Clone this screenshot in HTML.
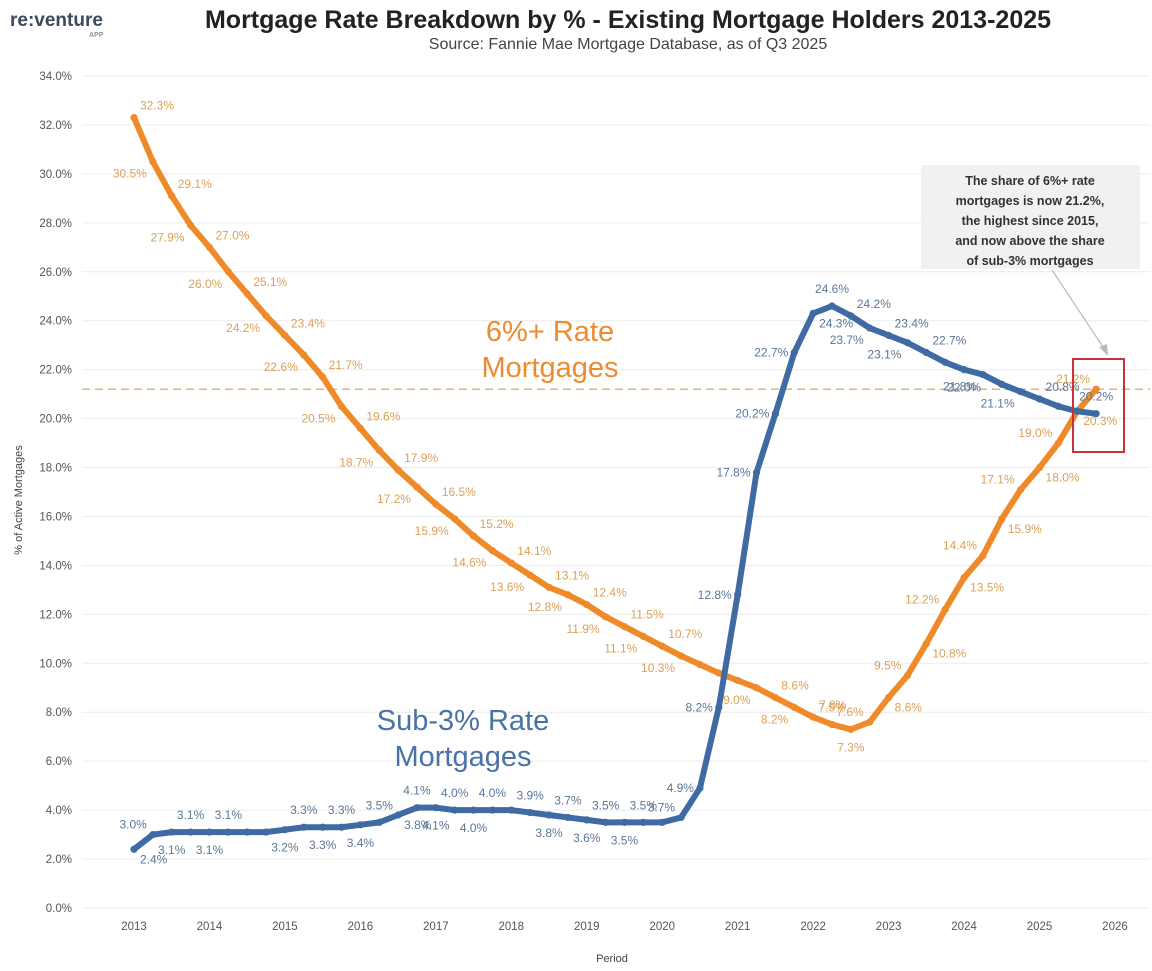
<!DOCTYPE html>
<html><head><meta charset="utf-8"><style>
body{margin:0;background:#fff;width:1152px;height:971px;overflow:hidden;font-family:"Liberation Sans",sans-serif}
svg{display:block}
</style></head><body>
<svg id="chart" width="1152" height="971" font-family="Liberation Sans, sans-serif">
<g>
<text x="10" y="26" font-size="19" font-weight="bold" fill="#3b4a5c">re:venture</text>
<text x="89" y="37" font-size="7" font-weight="bold" fill="#8a96a6">APP</text>
</g>
<text x="628" y="28" text-anchor="middle" font-size="25" font-weight="bold" fill="#222">Mortgage Rate Breakdown by % - Existing Mortgage Holders 2013-2025</text>
<text x="628" y="49" text-anchor="middle" font-size="16" fill="#444">Source: Fannie Mae Mortgage Database, as of Q3 2025</text>
<g id="grid"></g><g id="yticks"></g><g id="xticks"></g>
<text transform="translate(22,500) rotate(-90)" text-anchor="middle" font-size="11" fill="#444">% of Active Mortgages</text>
<text x="612" y="962" text-anchor="middle" font-size="11" fill="#444">Period</text>
<g id="marks"></g>
<text x="550" y="341" text-anchor="middle" font-size="29" fill="#ec8c2e">6%+ Rate</text>
<text x="550" y="377" text-anchor="middle" font-size="29" fill="#ec8c2e">Mortgages</text>
<text x="463" y="730" text-anchor="middle" font-size="29" fill="#4a72a6">Sub-3% Rate</text>
<text x="463" y="766" text-anchor="middle" font-size="29" fill="#4a72a6">Mortgages</text>
<g>
<rect x="921" y="165" width="219" height="104" fill="#f1f1f1"/>
<text text-anchor="middle" font-size="12.5" font-weight="bold" fill="#333">
<tspan x="1030" y="185">The share of 6%+ rate</tspan><tspan x="1030" y="205">mortgages is now 21.2%,</tspan><tspan x="1030" y="225">the highest since 2015,</tspan><tspan x="1030" y="245">and now above the share</tspan><tspan x="1030" y="265">of sub-3% mortgages</tspan></text>
<line x1="1052" y1="270" x2="1105" y2="350" stroke="#bbb" stroke-width="1.2"/>
<polygon points="1108,356 1099,347 1107,344" fill="#bbb"/>
<rect x="1073" y="359" width="51" height="93" fill="none" stroke="#c8323c" stroke-width="2"/>
</g>
</svg>
<script>
const yTicks=[0,2,4,6,8,10,12,14,16,18,20,22,24,26,28,30,32,34];
const xYears=[2013,2014,2015,2016,2017,2018,2019,2020,2021,2022,2023,2024,2025,2026];
const startYear=2013;
const orangeVals=[32.3,30.5,29.1,27.9,27.0,26.0,25.1,24.2,23.4,22.6,21.7,20.5,19.6,18.7,17.9,17.2,16.5,15.9,15.2,14.6,14.1,13.6,13.1,12.8,12.4,11.9,11.5,11.1,10.7,10.3,9.95,9.6,9.3,9.0,8.6,8.2,7.8,7.5,7.3,7.6,8.6,9.5,10.8,12.2,13.5,14.4,15.9,17.1,18.0,19.0,20.3,21.2];
const orangeLabels=[32.3,30.5,29.1,27.9,27.0,26.0,25.1,24.2,23.4,22.6,21.7,20.5,19.6,18.7,17.9,17.2,16.5,15.9,15.2,14.6,14.1,13.6,13.1,12.8,12.4,11.9,11.5,11.1,10.7,10.3,null,null,null,9.0,8.6,8.2,7.8,7.5,7.3,7.6,8.6,9.5,10.8,12.2,13.5,14.4,15.9,17.1,18.0,19.0,20.3,21.2];
const blueVals=[2.4,3.0,3.1,3.1,3.1,3.1,3.1,3.1,3.2,3.3,3.3,3.3,3.4,3.5,3.8,4.1,4.1,4.0,4.0,4.0,4.0,3.9,3.8,3.7,3.6,3.5,3.5,3.5,3.5,3.7,4.9,8.2,12.8,17.8,20.2,22.7,24.3,24.6,24.2,23.7,23.4,23.1,22.7,22.3,22.0,21.8,21.4,21.1,20.8,20.5,20.3,20.2];
const blueLabels=[2.4,3.0,3.1,3.1,3.1,3.1,null,null,3.2,3.3,3.3,3.3,3.4,3.5,3.8,4.1,4.1,4.0,4.0,4.0,null,3.9,3.8,3.7,3.6,3.5,3.5,3.5,null,3.7,4.9,8.2,12.8,17.8,20.2,22.7,24.3,24.6,24.2,23.7,23.4,23.1,22.7,null,22.0,21.8,null,21.1,20.8,null,null,20.2];
const refLine=21.2;
const NS='http://www.w3.org/2000/svg';
const y=v=>908-v*(908-76)/34;
const xYear=yr=>134+(yr-2013)*75.46;
const xIdx=i=>xYear(startYear+i/4);
function mk(tag,attrs,parent){const e=document.createElementNS(NS,tag);for(const k in attrs)e.setAttribute(k,attrs[k]);parent.appendChild(e);return e;}
const grid=document.getElementById('grid'),yt=document.getElementById('yticks'),xt=document.getElementById('xticks'),marks=document.getElementById('marks');
yTicks.forEach(t=>{
 const l=mk('line',{x1:82,x2:1150,y1:y(t),y2:y(t),stroke:'#ececec','stroke-width':1},grid);
 
 
 const tx=mk('text',{x:72,y:y(t)+4,'text-anchor':'end','font-size':11.5,fill:'#555'},yt);
 tx.textContent=t.toFixed(1)+'%';
 
 
});
xYears.forEach(yr=>{
 const tx=mk('text',{x:xYear(yr),y:930,'text-anchor':'middle','font-size':11.5,fill:'#555'},xt);
 tx.textContent=yr;
 
 
});
const ref=mk('line',{x1:82,x2:1150,y1:y(refLine),y2:y(refLine),stroke:'#e8b27a','stroke-width':1.5,'stroke-dasharray':'8,5'},marks);


function series(vals,labels,color,labColor,name){
 const g=mk('g',{},marks);
 
 
 const p=mk('polyline',{points:vals.map((v,i)=>xIdx(i)+','+y(v)).join(' '),fill:'none',stroke:color,'stroke-width':6,'stroke-linejoin':'round','stroke-linecap':'round'},g);
 
 
 vals.forEach((v,i)=>{
  const c=mk('circle',{cx:xIdx(i),cy:y(v),r:3.6,fill:color},g);
  
  
  const lv=labels[i];if(lv==null)return;
  const prev=vals[Math.max(0,i-1)],next=vals[Math.min(vals.length-1,i+1)];
  const slope=next-prev;
  const even=i%2===0;
  let dx,dy,anchor='middle';
  if(Math.abs(slope)>0.5&&Math.abs(slope)<4){
    if(slope<0){ if(even){dx=6;dy=-8;anchor='start';} else {dx=-6;dy=16;anchor='end';} }
    else { if(even){dx=6;dy=14;anchor='start';} else {dx=-6;dy=-6;anchor='end';} }
  }
  else if(Math.abs(slope)>=4){dx=slope>0?-6:6;dy=4;anchor=slope>0?'end':'start';}
  else{dx=0;dy=even?22:-13;}
  const t=mk('text',{x:xIdx(i)+dx,y:y(v)+dy,'text-anchor':anchor,'font-size':12,fill:labColor},g);
  t.textContent=lv.toFixed(1)+'%';
  
  
 });
}
series(orangeVals,orangeLabels,'#ef8a2a','#dba158','orange');
series(blueVals,blueLabels,'#3f6aa3','#5b7698','blue');
</script>
</body></html>
